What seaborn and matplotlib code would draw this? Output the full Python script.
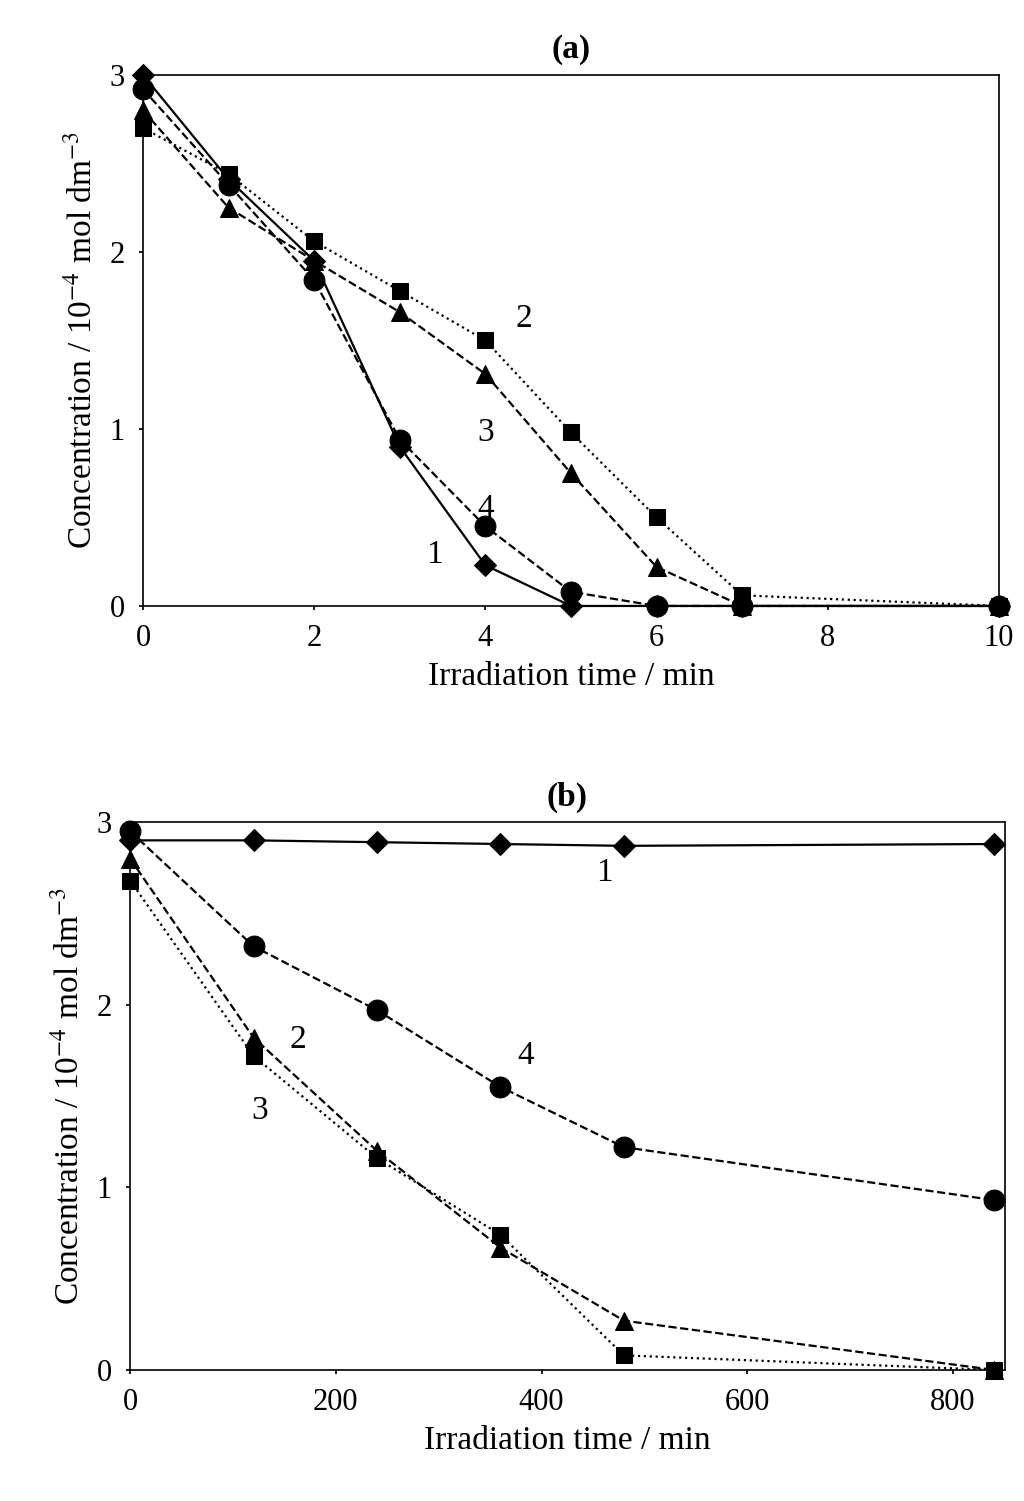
import numpy as np
import pandas as pd
import matplotlib
matplotlib.use("Agg")
import matplotlib.pyplot as plt
import seaborn as sns

# panel (a)
t_a = [0, 1, 2, 3, 4, 5, 6, 7, 10]
a1 = [3.0, 2.41, 1.95, 0.9, 0.23, 0.0, 0.0, 0.0, 0.0]
a2 = [2.7, 2.44, 2.06, 1.78, 1.5, 0.98, 0.5, 0.06, 0.0]
a3 = [2.8, 2.25, 1.95, 1.66, 1.31, 0.75, 0.22, 0.0, 0.0]
a4 = [2.92, 2.38, 1.84, 0.94, 0.45, 0.08, 0.0, 0.0, 0.0]

# panel (b): diamonds, triangles, squares, circles
t_b = [0, 120, 240, 360, 480, 840]
b_dia = [2.9, 2.9, 2.89, 2.88, 2.87, 2.88]
b_tri = [2.8, 1.82, 1.2, 0.67, 0.27, 0.0]
b_sq = [2.68, 1.72, 1.16, 0.74, 0.08, 0.0]
b_cir = [2.95, 2.32, 1.97, 1.55, 1.22, 0.93]

sns.set_theme(style="ticks")
plt.rcParams["font.family"] = "Liberation Serif"
plt.rcParams["mathtext.fontset"] = "stix"
for k in ["text.color", "axes.labelcolor", "xtick.color", "ytick.color", "axes.edgecolor"]:
    plt.rcParams[k] = "black"

# marker, linestyle, size
styles = {"D": ("D", "-", 11), "s": ("s", ":", 12), "^": ("^", "--", 13), "o": ("o", "--", 15)}


def draw(ax, t, series):
    for key, vals in series:
        m, ls, ms = styles[key]
        df = pd.DataFrame({"t": t, "c": vals})
        sns.lineplot(data=df, x="t", y="c", ax=ax, color="black", linestyle=ls,
                     marker=m, markersize=ms, markeredgecolor="black", linewidth=1.6)
    ax.set_ylim(0, 3)
    ax.set_yticks([0, 1, 2, 3])
    ax.set_ylabel("Concentration / 10$^{-4}$ mol dm$^{-3}$", fontsize=24, labelpad=8)
    ax.set_xlabel("Irradiation time / min", fontsize=24, labelpad=6)
    ax.tick_params(labelsize=22, length=3, pad=10)
    for s in ax.spines.values():
        s.set_visible(True)
        s.set_linewidth(1.2)
    for c in ax.get_lines():
        c.set_clip_on(False)


fig = plt.figure(figsize=(10.24, 15.01), dpi=100)
ax1 = fig.add_axes([0.1396, 0.5963, 0.836, 0.3538])
ax2 = fig.add_axes([0.127, 0.0873, 0.854, 0.365])

draw(ax1, t_a, [("s", a2), ("^", a3), ("D", a1), ("o", a4)])
ax1.set_xlim(0, 10)
ax1.set_xticks([0, 2, 4, 6, 8, 10])
for txt, x, y in [("2", 4.45, 1.62), ("3", 4.0, 0.98), ("4", 4.0, 0.55), ("1", 3.4, 0.29)]:
    ax1.text(x, y, txt, fontsize=24, ha="center", va="center")
ax1.set_title("(a)", fontsize=24, fontweight="bold", pad=12)

draw(ax2, t_b, [("s", b_sq), ("^", b_tri), ("o", b_cir), ("D", b_dia)])
ax2.set_xlim(0, 850)
ax2.set_xticks([0, 200, 400, 600, 800])
for txt, x, y in [("1", 461, 2.72), ("2", 163, 1.81), ("3", 126, 1.42), ("4", 385, 1.72)]:
    ax2.text(x, y, txt, fontsize=24, ha="center", va="center")
ax2.set_title("(b)", fontsize=24, fontweight="bold", pad=12)

fig.savefig("out.png", dpi=100)
